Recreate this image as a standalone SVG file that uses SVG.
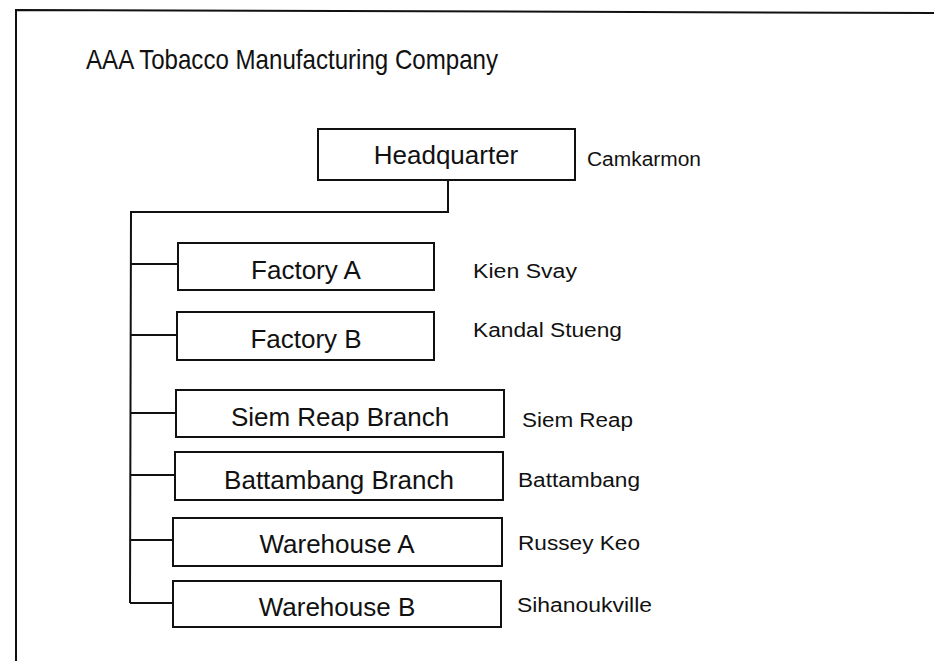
<svg xmlns="http://www.w3.org/2000/svg" width="934" height="661" viewBox="0 0 934 661">
<style>
.box{fill:#fff;stroke:#111;stroke-width:2}
.bt{font-family:"Liberation Sans",Arial,sans-serif;font-size:26px;fill:#111;text-anchor:middle}
.lb{font-family:"Liberation Sans",Arial,sans-serif;font-size:20px;fill:#111}
.ln{fill:none;stroke:#111;stroke-width:2}
</style>
<rect width="934" height="661" fill="#fff"/>
<g id="frame">
<path class="ln" d="M16 661 L16 10 L934 13"/>
</g>
<text x="86" y="69" font-family="'Liberation Sans',Arial,sans-serif" font-size="28" fill="#111" textLength="412" lengthAdjust="spacingAndGlyphs">AAA Tobacco Manufacturing Company</text>
<g id="connectors">
<path class="ln" d="M448 180 L448 212 L131 212 L130 603"/>
<line class="ln" x1="131" y1="264" x2="178" y2="264"/>
<line class="ln" x1="131" y1="335" x2="177" y2="335"/>
<line class="ln" x1="131" y1="413" x2="176" y2="413"/>
<line class="ln" x1="130" y1="475" x2="175" y2="475"/>
<line class="ln" x1="130" y1="540" x2="173" y2="540"/>
<line class="ln" x1="130" y1="603" x2="173" y2="603"/>
</g>
<g id="hq">
<rect class="box" x="318" y="129" width="257" height="51"/>
<text class="bt" x="446" y="164">Headquarter</text>
<text class="lb" x="587" y="166" textLength="114" lengthAdjust="spacingAndGlyphs">Camkarmon</text>
</g>
<g id="factoryA">
<rect class="box" x="178" y="243" width="256" height="47"/>
<text class="bt" x="306" y="279">Factory A</text>
<text class="lb" x="473" y="278" textLength="104" lengthAdjust="spacingAndGlyphs">Kien Svay</text>
</g>
<g id="factoryB">
<rect class="box" x="177" y="312" width="257" height="48"/>
<text class="bt" x="306" y="348">Factory B</text>
<text class="lb" x="473" y="337" textLength="149" lengthAdjust="spacingAndGlyphs">Kandal Stueng</text>
</g>
<g id="siemreap">
<rect class="box" x="176" y="390" width="328" height="47"/>
<text class="bt" x="340" y="426">Siem Reap Branch</text>
<text class="lb" x="522" y="427" textLength="111" lengthAdjust="spacingAndGlyphs">Siem Reap</text>
</g>
<g id="battambang">
<rect class="box" x="175" y="452" width="328" height="48"/>
<text class="bt" x="339" y="489">Battambang Branch</text>
<text class="lb" x="518" y="487" textLength="122" lengthAdjust="spacingAndGlyphs">Battambang</text>
</g>
<g id="warehouseA">
<rect class="box" x="173" y="518" width="329" height="48"/>
<text class="bt" x="337" y="553">Warehouse A</text>
<text class="lb" x="518" y="550" textLength="122" lengthAdjust="spacingAndGlyphs">Russey Keo</text>
</g>
<g id="warehouseB">
<rect class="box" x="173" y="581" width="328" height="46"/>
<text class="bt" x="337" y="616">Warehouse B</text>
<text class="lb" x="517" y="612" textLength="135" lengthAdjust="spacingAndGlyphs">Sihanoukville</text>
</g>
</svg>
